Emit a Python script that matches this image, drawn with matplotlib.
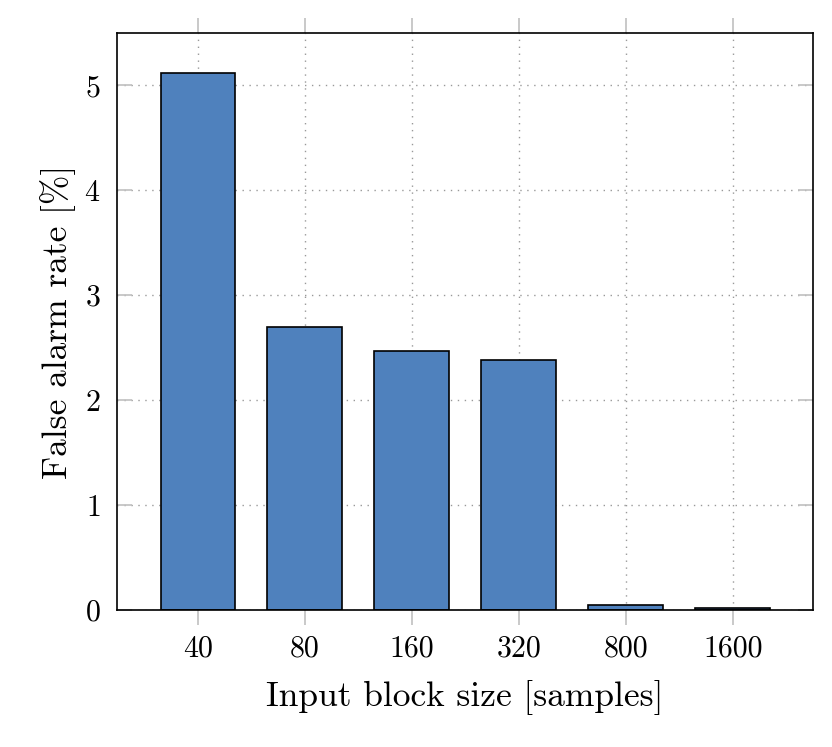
import matplotlib
matplotlib.use("Agg")
import matplotlib.pyplot as plt

plt.rcParams['font.family'] = ['cmr10', 'DejaVu Serif']
plt.rcParams['mathtext.fontset'] = 'cm'
plt.rcParams['axes.formatter.use_mathtext'] = True

block_sizes = ['40', '80', '160', '320', '800', '1600']
false_alarm = [5.12, 2.70, 2.47, 2.385, 0.05, 0.02]

fig = plt.figure(figsize=(8.32, 7.47), dpi=100)
ax = fig.add_axes([0.1406, 0.1834, 0.8366, 0.7724])

x = range(len(block_sizes))
ax.bar(x, false_alarm, width=0.7, color='#4F81BD', edgecolor='black',
       linewidth=1.2, zorder=3)

ax.set_xlim(-0.757, 5.75)
ax.set_ylim(0, 5.5)
ax.set_xticks(list(x))
ax.set_xticklabels(block_sizes)
ax.set_yticks([0, 1, 2, 3, 4, 5])

ax.grid(True, linestyle=(0, (1, 4)), color='#999999', linewidth=1.0, zorder=0)
ax.set_axisbelow(True)

ax.tick_params(axis='x', direction='out', length=10.5, width=1.2, color='#c0c0c0',
               top=True, labelsize=21.5, pad=7.5)
ax.tick_params(axis='y', direction='in', length=10.5, width=1.2, color='#c0c0c0',
               right=True, labelsize=21.5, pad=12)

for s in ax.spines.values():
    s.set_linewidth(1.2)
    s.set_zorder(4)

ax.set_xlabel('Input block size [samples]', fontsize=25.5, labelpad=13)
ax.set_ylabel('False alarm rate [%]', fontsize=25.5, labelpad=6)

fig.savefig('out.png', dpi=100)
